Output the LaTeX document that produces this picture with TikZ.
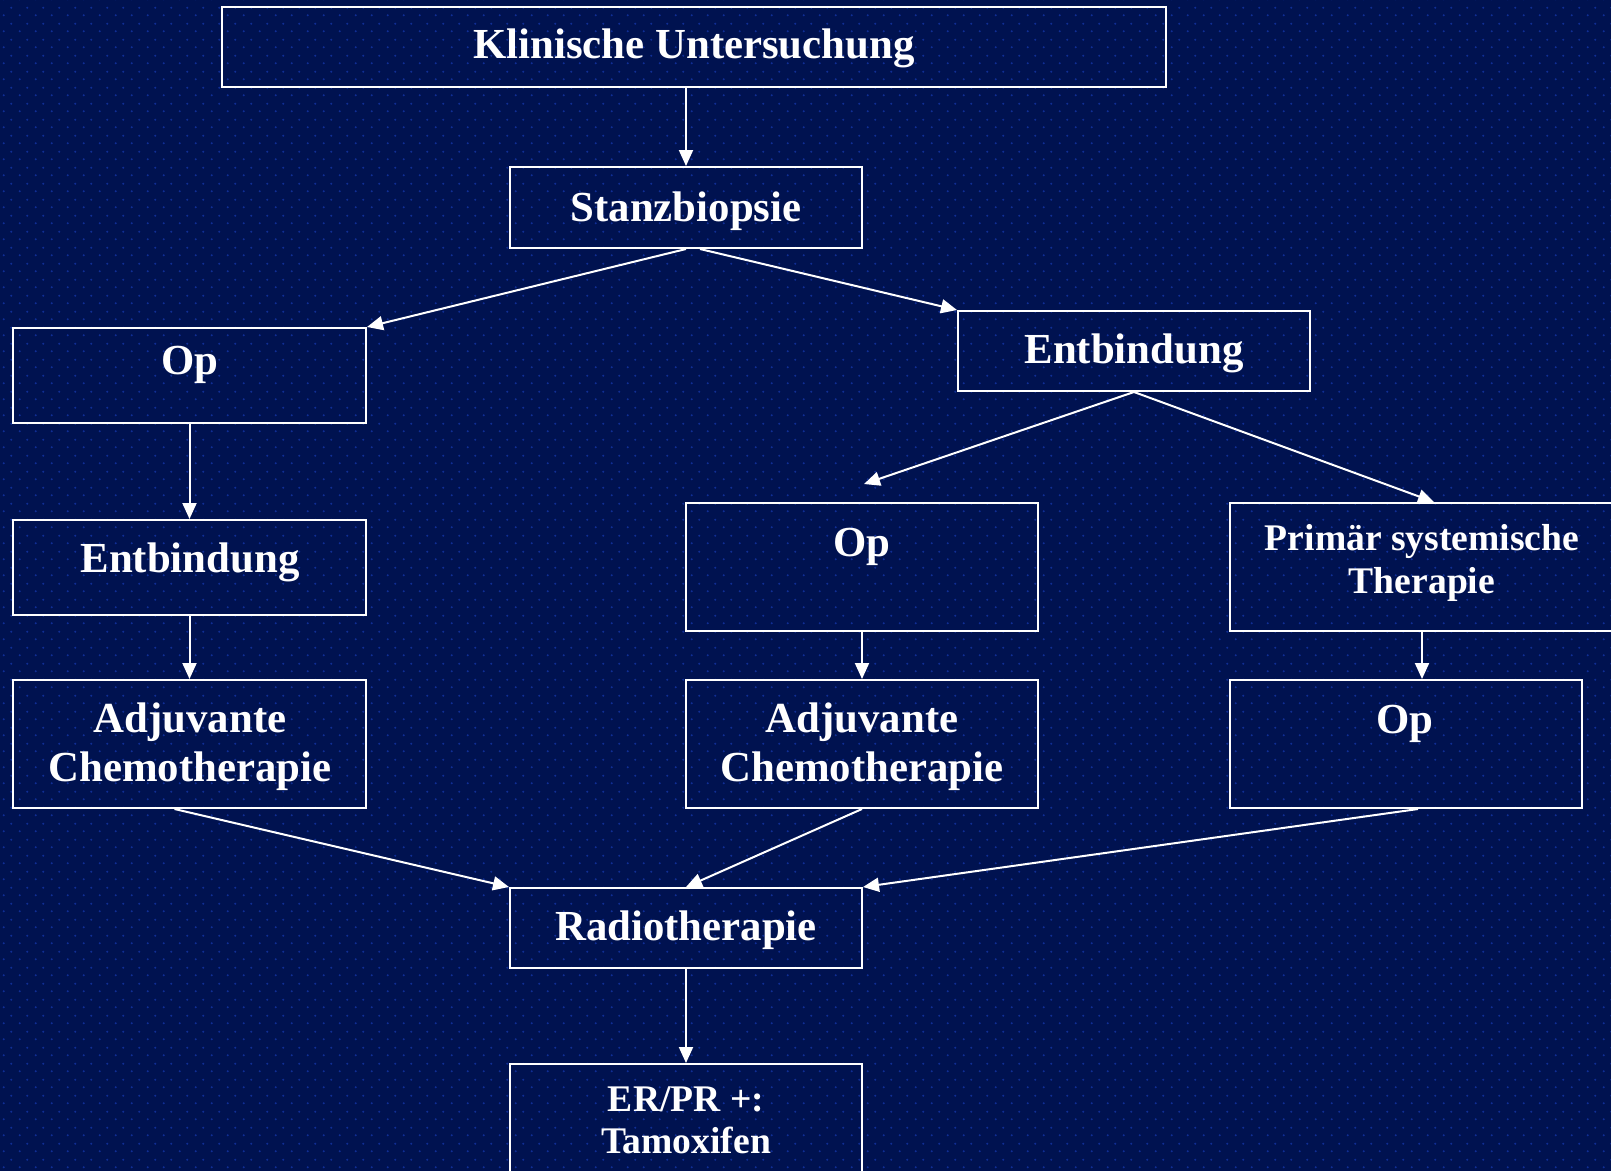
\documentclass[tikz,border=0pt]{standalone}
\usepackage{fontspec}
\setmainfont{Liberation Serif}
\usetikzlibrary{arrows.meta,calc,patterns.meta}
\definecolor{bgc}{RGB}{0,18,80}
\definecolor{dotc}{RGB}{16,46,148}
\tikzdeclarepattern{
  name=bgdots,
  type=colored,
  bounding box={(0pt,0pt) and (15.5pt,15.5pt)},
  tile size={(15.5pt,15.5pt)},
  code={\fill[dotc] (3.9pt,3.9pt) circle (1.2pt); \fill[dotc] (11.65pt,11.65pt) circle (1.2pt);}
}
\tikzset{
  box/.style={draw=white, line width=2pt, rectangle, inner sep=0pt},
  txt/.style={text=white, font=\bfseries\fontsize{42.8}{50}\selectfont, anchor=base, inner sep=0pt},
  stxt/.style={text=white, font=\bfseries\fontsize{37.6}{44}\selectfont, anchor=base, inner sep=0pt},
  arr/.style={draw=white, line width=2pt, -{Triangle[length=16pt,width=14pt]}}
}
\begin{document}
\begin{tikzpicture}[x=1pt,y=-1pt]
\useasboundingbox (0,0) rectangle (1611,1171);
\fill[bgc] (0,0) rectangle (1611,1171);
\fill[pattern=bgdots] (0,0) rectangle (1611,1171);

% boxes
\node[box, minimum width=944, minimum height=80] (klin) at (694,47) {};
\node[box, minimum width=352, minimum height=81] (stanz) at (686,207.5) {};
\node[box, minimum width=353, minimum height=95] (opl) at (189.5,375.5) {};
\node[box, minimum width=352, minimum height=80] (entr) at (1134,351) {};
\node[box, minimum width=353, minimum height=95] (entl) at (189.5,567.5) {};
\node[box, minimum width=352, minimum height=128] (opm) at (862,567) {};
\node[box, minimum width=384, minimum height=128] (prim) at (1422,567) {};
\node[box, minimum width=353, minimum height=128] (adjl) at (189.5,744) {};
\node[box, minimum width=352, minimum height=128] (adjm) at (862,744) {};
\node[box, minimum width=352, minimum height=128] (opr) at (1406,744) {};
\node[box, minimum width=352, minimum height=80] (radio) at (686,928) {};
\node[box, minimum width=352, minimum height=126] (er) at (686,1127) {};

% texts
\node[txt] (klin-t) at (694,58) {Klinische Untersuchung};
\node[txt] (stanz-t) at (686,221) {Stanzbiopsie};
\node[txt] (opl-t) at (190,374) {Op};
\node[txt] (entr-t) at (1134,363) {Entbindung};
\node[txt] (entl-t) at (190,572) {Entbindung};
\node[txt] (opm-t) at (862,556) {Op};
\node[stxt] (prim-t1) at (1422,550) {Primär systemische};
\node[stxt] (prim-t2) at (1422,593) {Therapie};
\node[txt] (adjl-t1) at (190,732) {Adjuvante};
\node[txt] (adjl-t2) at (190,781) {Chemotherapie};
\node[txt] (adjm-t1) at (862,732) {Adjuvante};
\node[txt] (adjm-t2) at (862,781) {Chemotherapie};
\node[txt] (opr-t) at (1405,733) {Op};
\node[txt] (radio-t) at (686,940) {Radiotherapie};
\node[stxt] (er-t1) at (686,1111) {ER/PR +:};
\node[stxt] (er-t2) at (686,1153) {Tamoxifen};

% free arrow ends
\coordinate (opmtip) at ($(opm.north)+(2,-18)$);
\coordinate (primtip) at ($(prim.north)+(12,0)$);

% connectors
\draw[arr] (stanz.north |- klin.south) -- (stanz.north);
\draw[arr] (stanz.south) -- (opl.north east);
\draw[arr] ($(stanz.south)+(14,0)$) -- (entr.north west);
\draw[arr] (entr.south) -- (opmtip);
\draw[arr] (entr.south) -- (primtip);
\draw[arr] (opl.south) -- (entl.north);
\draw[arr] (entl.south) -- (adjl.north);
\draw[arr] (opm.south) -- (adjm.north);
\draw[arr] (prim.south) -- (prim.south |- opr.north);
\draw[arr] ($(adjl.south)+(-15,0)$) -- (radio.north west);
\draw[arr] (adjm.south) -- (radio.north);
\draw[arr] ($(opr.south)+(12,0)$) -- (radio.north east);
\draw[arr] (radio.south) -- (er.north);
\end{tikzpicture}
\end{document}
